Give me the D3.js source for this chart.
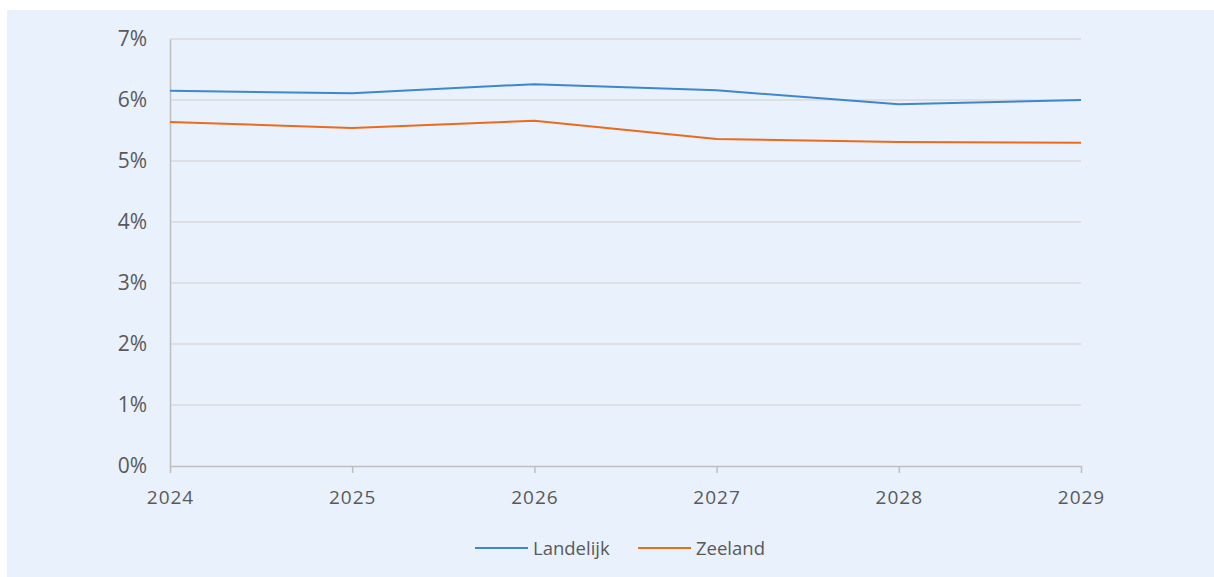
<html>
<head>
<style>
  body { margin: 0; background: white; }
  text { font-family: "Open Sans", sans-serif; fill: #595959; }
</style>
</head>
<body>
<svg id="chart" width="1214" height="577"></svg>
<script src="https://cdn.jsdelivr.net/npm/d3@7"></script>
<script>
const years = ["2024", "2025", "2026", "2027", "2028", "2029"]
const landelijk = [6.15, 6.11, 6.26, 6.16, 5.93, 6.00]
const zeeland = [5.64, 5.54, 5.66, 5.36, 5.31, 5.30]
const yTicks = [0, 1, 2, 3, 4, 5, 6, 7]
const seriesNames = ["Landelijk", "Zeeland"]
const seriesColors = ["#3f86cd", "#ec6a1c"]

let svg = d3.select("#chart")

svg.append("rect")
  .attr("x", 7).attr("y", 10)
  .attr("width", 1207).attr("height", 567)
  .attr("fill", "#e9f1fd")

let x = d3.scalePoint().domain(years).range([170, 1081])
let y = d3.scaleLinear().domain([0, 7]).range([466, 39])

// gridlines
svg.append("g").selectAll("line").data(yTicks.filter(d => d > 0))
  .enter().append("line")
  .attr("x1", 170).attr("x2", 1081)
  .attr("y1", d => y(d)).attr("y2", d => y(d))
  .attr("stroke", "#d9d9d9").attr("stroke-width", 1.5)

// y axis
let yAxis = svg.append("g")
  .attr("transform", "translate(170,0)")
  .call(d3.axisLeft(y).tickValues(yTicks).tickFormat(d => d + "%").tickSize(0).tickPadding(23))
yAxis.select(".domain").attr("stroke", "#bfbfbf").attr("stroke-width", 1.5)
yAxis.selectAll("text").style("font-size", "21px").attr("fill", "#595959")

// x axis
let xAxis = svg.append("g")
  .attr("transform", "translate(0,466)")
  .call(d3.axisBottom(x).tickSize(7).tickSizeOuter(0).tickPadding(18))
xAxis.select(".domain").attr("stroke", "#bfbfbf").attr("stroke-width", 1.5)
xAxis.selectAll(".tick line").attr("stroke", "#bfbfbf").attr("stroke-width", 1.5)
xAxis.selectAll("text").style("font-size", "19px").attr("fill", "#595959").style("letter-spacing", "1px")

let line = d3.line().x((d, i) => x(years[i])).y(d => y(d))

;[landelijk, zeeland].forEach((s, i) => {
  svg.append("path")
    .datum(s)
    .attr("d", line)
    .attr("fill", "none")
    .attr("stroke", seriesColors[i])
    .attr("stroke-width", 2)
})

// legend
let legendX = [475, 638]
seriesNames.forEach((n, i) => {
  let g = svg.append("g").attr("transform", `translate(${legendX[i]},548)`)
  g.append("line").attr("x1", 0).attr("x2", 53).attr("y1", 0).attr("y2", 0)
    .attr("stroke", seriesColors[i]).attr("stroke-width", 2)
  g.append("text").attr("x", 58).attr("y", 7)
    .style("font-size", "18.5px").text(n)
})
</script>
</body>
</html>
